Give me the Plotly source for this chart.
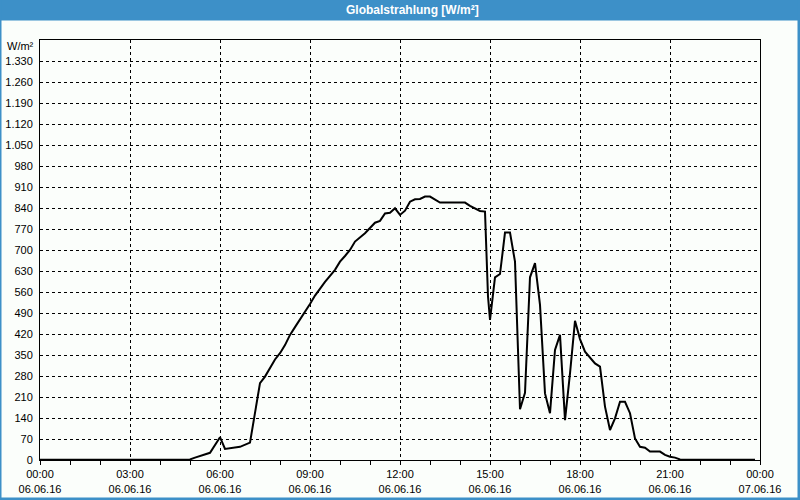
import plotly.graph_objects as go

# ---- data ----
times = ["00:00", "05:00", "05:10", "05:20", "05:40", "06:00", "06:10", "06:40", "07:00",
         "07:20", "07:30", "07:50", "08:00", "08:10", "08:20", "08:30", "08:50", "09:00",
         "09:10", "09:30", "09:50", "10:00", "10:10", "10:20", "10:30", "10:50", "11:10",
         "11:20", "11:30", "11:40", "11:50", "12:00", "12:10", "12:20", "12:30", "12:40",
         "12:50", "13:00", "13:20", "13:40", "14:00", "14:10", "14:20", "14:40", "14:50",
         "14:56", "15:00", "15:10", "15:20", "15:30", "15:40", "15:50", "16:00", "16:10",
         "16:20", "16:30", "16:40", "16:50", "17:00", "17:10", "17:20", "17:30", "17:40",
         "17:50", "18:00", "18:10", "18:30", "18:40", "18:50", "19:00", "19:10", "19:20",
         "19:30", "19:40", "19:50", "20:00", "20:10", "20:20", "20:40", "20:50", "21:00",
         "21:10", "21:20", "23:50"]
values = [1, 2, 8, 13, 24, 76, 37, 44, 58,
          256, 278, 335, 356, 383, 417, 443, 492, 520,
          548, 594, 634, 661, 680, 700, 728, 756, 791,
          797, 822, 824, 839, 817, 831, 861, 869, 870,
          878, 878, 858, 858, 856, 858, 847, 830, 828,
          545, 467, 609, 620, 758, 758, 661, 169, 224,
          609, 656, 517, 222, 156, 367, 417, 133, 289,
          464, 403, 361, 322, 311, 178, 100, 139, 194,
          194, 156, 72, 44, 41, 28, 28, 17, 11,
          8, 2, 1]

x_tick_vals = ["2016-06-06 00:00", "2016-06-06 03:00", "2016-06-06 06:00", "2016-06-06 09:00",
               "2016-06-06 12:00", "2016-06-06 15:00", "2016-06-06 18:00", "2016-06-06 21:00",
               "2016-06-07 00:00"]
x_tick_text = ["00:00<br>06.06.16", "03:00<br>06.06.16", "06:00<br>06.06.16", "09:00<br>06.06.16",
               "12:00<br>06.06.16", "15:00<br>06.06.16", "18:00<br>06.06.16", "21:00<br>06.06.16",
               "00:00<br>07.06.16"]
y_tick_vals = [0, 70, 140, 210, 280, 350, 420, 490, 560, 630, 700, 770, 840, 910, 980,
               1050, 1120, 1190, 1260, 1330]
y_tick_text = ["0", "70", "140", "210", "280", "350", "420", "490", "560", "630", "700", "770",
               "840", "910", "980", "1.050", "1.120", "1.190", "1.260", "1.330"]

title_text = "Globalstrahlung [W/m²]"
unit_text = "W/m²"

x = ["2016-06-06 " + t for t in times]

W, H = 800, 500
ML, MR, MT, MB = 40, 40, 40, 40
PW, PH = W - ML - MR, H - MT - MB
BLUE = "#3d90c8"
BG = "#fbfefb"
FONT = "Liberation Sans"


def px_x(p):
    return (p - ML) / PW


def px_y(p):
    return 1 - (p - MT) / PH


fig = go.Figure()
fig.add_trace(go.Scatter(x=x, y=values, mode="lines",
                         line=dict(color="black", width=2), hoverinfo="skip"))

shapes = [
    dict(type="rect", xref="paper", yref="paper", x0=px_x(0), x1=px_x(800),
         y0=px_y(0), y1=px_y(20.5), fillcolor=BLUE, line=dict(width=0), layer="above"),
    dict(type="rect", xref="paper", yref="paper", x0=px_x(0), x1=px_x(1.5),
         y0=px_y(0), y1=px_y(500), fillcolor=BLUE, line=dict(width=0), layer="above"),
    dict(type="rect", xref="paper", yref="paper", x0=px_x(797.5), x1=px_x(800),
         y0=px_y(0), y1=px_y(500), fillcolor=BLUE, line=dict(width=0), layer="above"),
    dict(type="rect", xref="paper", yref="paper", x0=px_x(0), x1=px_x(800),
         y0=px_y(497.5), y1=px_y(500), fillcolor=BLUE, line=dict(width=0), layer="above"),
]

annotations = [
    dict(text=title_text, xref="paper", yref="paper", x=px_x(412), y=px_y(10),
         xanchor="center", yanchor="middle", showarrow=False,
         font=dict(family=FONT, size=12, color="white", weight="bold")),
    dict(text=unit_text, xref="paper", yref="paper", x=px_x(36), y=px_y(46),
         xanchor="right", yanchor="middle", showarrow=False,
         font=dict(family=FONT, size=11, color="black")),
]

fig.update_layout(
    width=W, height=H,
    margin=dict(l=ML, r=MR, t=MT, b=MB, pad=0, autoexpand=False),
    paper_bgcolor=BG, plot_bgcolor=BG,
    showlegend=False,
    font=dict(family=FONT, size=11, color="black"),
    shapes=shapes, annotations=annotations,
    xaxis=dict(
        type="date", range=["2016-06-06 00:00", "2016-06-07 00:00"],
        tickmode="array", tickvals=x_tick_vals, ticktext=x_tick_text,
        showgrid=True, gridcolor="black", gridwidth=1, griddash="3px,3px",
        showline=True, linecolor="black", linewidth=1, mirror=True,
        ticks="outside", ticklen=4, tickcolor="black", tickwidth=1,
        minor=dict(dtick=3600000, ticks="outside", ticklen=4, tickcolor="black",
                   showgrid=False),
        zeroline=False, fixedrange=True, automargin=False,
    ),
    yaxis=dict(
        range=[0, 1400], tickmode="array", tickvals=y_tick_vals, ticktext=y_tick_text,
        showgrid=True, gridcolor="black", gridwidth=1, griddash="3px,3px",
        showline=True, linecolor="black", linewidth=1, mirror=True,
        ticks="", ticklabelstandoff=4, zeroline=False, fixedrange=True, automargin=False,
    ),
)

fig.write_html("out.html", config={"displayModeBar": False},
               post_script="document.body.style.margin='0px';document.body.style.overflow='hidden';")
